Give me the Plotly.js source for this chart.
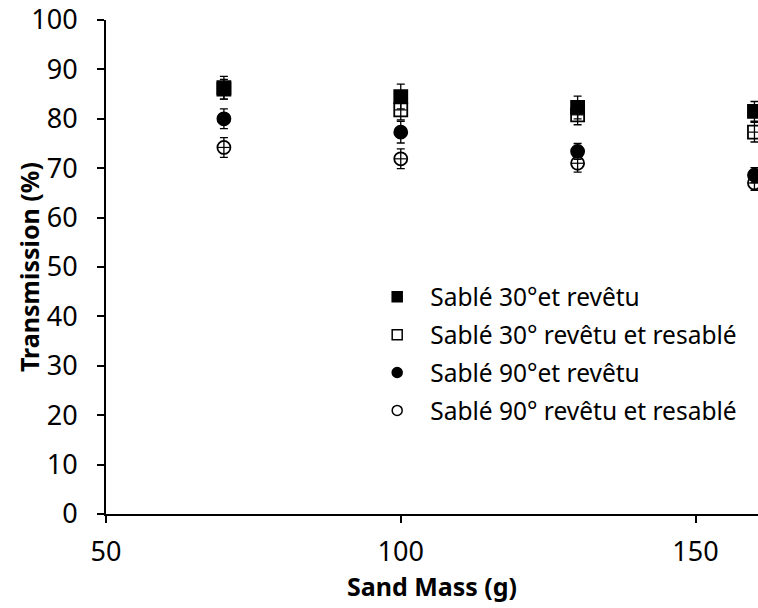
<!DOCTYPE html>
<html>
<head>
<meta charset="utf-8">
<script src="https://cdn.plot.ly/plotly-3.0.1.min.js"></script>
<style>
  html, body { margin: 0; padding: 0; background: #fff; }
  #chart { width: 758px; height: 608px; }
</style>
</head>
<body>
<div id="chart"></div>
<script>
// Sand mass (g) used for each sanding run
const sandMass = [70, 100, 130, 160];

// Series names
const seriesNames = [
  "Sablé 30°et revêtu",
  "Sablé 30° revêtu et resablé",
  "Sablé 90°et revêtu",
  "Sablé 90° revêtu et resablé"
];

// Transmission (%) and standard deviation for each series
const sable30Revetu = [86.3, 84.5, 82.3, 81.5];
const sable30RevetuErr = [2.3, 2.5, 2.3, 2.0];

const sable30Resable = [86.0, 81.8, 80.8, 77.3];
const sable30ResableErr = [2.0, 2.0, 2.0, 2.0];

const sable90Revetu = [80.0, 77.3, 73.4, 68.6];
const sable90RevetuErr = [2.0, 2.2, 1.6, 1.5];

const sable90Resable = [74.2, 71.9, 71.0, 67.0];
const sable90ResableErr = [2.0, 2.0, 1.8, 1.5];

// x-axis tick values
const xTicks = [50, 100, 150];

const FONT = "Noto Sans, Open Sans, sans-serif";

// data trace: markers with vertical error bars (and a short horizontal bar)
function dataTrace(name, y, err, symbol) {
  return {
    type: "scatter",
    mode: "markers",
    name: name,
    showlegend: false,
    x: sandMass,
    y: y,
    cliponaxis: false,
    marker: {
      symbol: symbol,
      size: 13,
      color: "#000",
      line: { color: "#000", width: 1.8 }
    },
    error_y: {
      type: "data",
      array: err,
      visible: true,
      color: "#000",
      thickness: 1.3,
      width: 4
    },
    error_x: {
      type: "constant",
      value: 1,
      visible: true,
      color: "#000",
      thickness: 1.2,
      width: 0
    }
  };
}

// legend-only entry with its own (smaller, lighter) symbol
function legendEntry(name, symbol, lineColor, rank) {
  return {
    type: "scatter",
    mode: "markers",
    name: name,
    legendgroup: "g" + rank,
    legendrank: rank,
    x: [null],
    y: [null],
    marker: {
      symbol: symbol,
      size: 10,
      color: "#000",
      line: { color: lineColor, width: 1.5 }
    }
  };
}

const traces = [
  dataTrace(seriesNames[1], sable30Resable, sable30ResableErr, "square-open"),
  dataTrace(seriesNames[3], sable90Resable, sable90ResableErr, "circle-open"),
  dataTrace(seriesNames[0], sable30Revetu, sable30RevetuErr, "square"),
  dataTrace(seriesNames[2], sable90Revetu, sable90RevetuErr, "circle"),
  legendEntry(seriesNames[0], "square", "#000", 1),
  legendEntry(seriesNames[1], "square-open", "#808080", 2),
  legendEntry(seriesNames[2], "circle", "#000", 3),
  legendEntry(seriesNames[3], "circle-open", "#808080", 4)
];

const layout = {
  width: 758,
  height: 608,
  margin: { l: 106, r: 0, t: 20, b: 94 },
  paper_bgcolor: "#fff",
  plot_bgcolor: "#fff",
  showlegend: true,
  legend: {
    x: 0.396,
    y: 0.485,
    xanchor: "left",
    yanchor: "top",
    bgcolor: "rgba(0,0,0,0)",
    font: { family: FONT, size: 24.5, color: "#000" },
    tracegroupgap: 3,
    itemwidth: 56
  },
  xaxis: {
    range: [50, 160.6],
    tickmode: "array",
    tickvals: xTicks,
    ticktext: xTicks.map(String),
    showgrid: false,
    zeroline: false,
    showline: true,
    linecolor: "#000",
    linewidth: 2,
    ticks: "outside",
    ticklen: 7,
    tickwidth: 2,
    tickcolor: "#000",
    ticklabelstandoff: 6,
    tickfont: { family: FONT, size: 27, color: "#000" },
    title: {
      text: "<b>Sand Mass (g)</b>",
      font: { family: FONT, size: 25, color: "#000" },
      standoff: 0
    }
  },
  yaxis: {
    range: [0, 100],
    dtick: 10,
    showgrid: false,
    zeroline: false,
    showline: true,
    linecolor: "#000",
    linewidth: 2,
    ticks: "outside",
    ticklen: 7,
    tickwidth: 2,
    tickcolor: "#000",
    ticklabelstandoff: 14,
    tickfont: { family: FONT, size: 27, color: "#000" }
  },
  annotations: [{
    // y-axis title, set close to the tick labels
    text: "<b>Transmission (%)</b>",
    textangle: -90,
    xref: "paper",
    yref: "paper",
    x: -0.118,
    y: 0.5,
    xanchor: "center",
    yanchor: "middle",
    showarrow: false,
    font: { family: FONT, size: 25, color: "#000" }
  }]
};

Plotly.newPlot("chart", traces, layout, { staticPlot: true, displayModeBar: false });
</script>
</body>
</html>
